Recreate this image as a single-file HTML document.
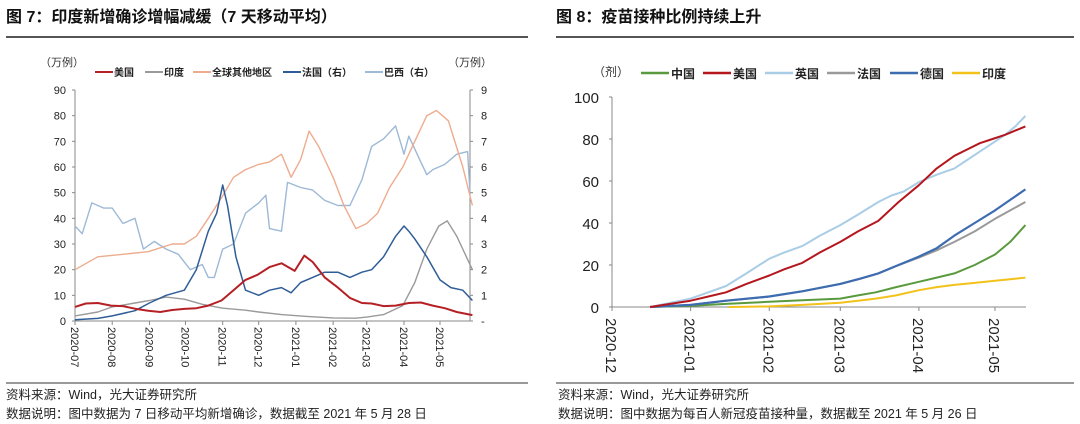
<!DOCTYPE html>
<html><head><meta charset="utf-8">
<style>
body{margin:0;width:1080px;height:424px;background:#fff;overflow:hidden;font-family:"Liberation Sans","Noto Sans CJK SC",sans-serif;}
svg{position:absolute;left:0;top:0}
text{font-family:"Liberation Sans","Noto Sans CJK SC",sans-serif;}
</style></head><body>
<svg id="c" width="1080" height="424">
<text x="6" y="22" font-size="16" font-weight="bold" fill="#111">图 7：印度新增确诊增幅减缓（7 天移动平均）</text>
<line x1="6" y1="37" x2="528" y2="37" stroke="#555" stroke-width="2"/>
<text x="556" y="22" font-size="16" font-weight="bold" fill="#111">图 8：疫苗接种比例持续上升</text>
<line x1="556" y1="37" x2="1074" y2="37" stroke="#555" stroke-width="2"/>
<line x1="6" y1="383" x2="528" y2="383" stroke="#333" stroke-width="1"/>
<line x1="556" y1="383" x2="1074" y2="383" stroke="#333" stroke-width="1"/>
<text x="6" y="399" font-size="12.5" fill="#222">资料来源：Wind，光大证券研究所</text>
<text x="6" y="418" font-size="12.5" fill="#222">数据说明：图中数据为 7 日移动平均新增确诊，数据截至 2021 年 5 月 28 日</text>
<text x="558" y="399" font-size="12.5" fill="#222">资料来源：Wind，光大证券研究所</text>
<text x="558" y="418" font-size="12.5" fill="#222">数据说明：图中数据为每百人新冠疫苗接种量，数据截至 2021 年 5 月 26 日</text>
<g id="L"></g><g id="R"></g>
</svg>
<script>
// ---- Left chart data (day index from 2020-07-01) ----
const usDays=[0,9,19,30,40,50,61,71,81,91,101,111,122,132,142,152,162,172,183,191,198,208,219,229,239,247,257,267,278,288,298,308,318,331];
const usVals=[5.5,6.8,7,6,5.8,4.8,4,3.5,4.3,4.7,5,6,8,12,16,18,21,22.5,19.5,25.5,23,17,13,9,7,6.8,5.8,6,7,7.2,6,5,3.5,2.3];
const inDays=[0,19,31,50,62,76,91,106,123,142,153,172,193,215,234,243,257,273,283,293,303,310,318,331];
const inVals=[2,3.5,5.5,7,8,9.3,8.5,6.5,5,4.2,3.5,2.5,1.8,1.2,1.1,1.5,2.5,6,15,28,37,39,33,20];
const glDays=[0,19,40,61,81,91,101,111,122,132,142,153,162,172,180,188,195,203,215,224,234,243,252,262,273,283,293,301,311,323,331];
const glVals=[20,25,26,27,30,30,33,40,48,56,59,61,62,65,56,63,74,68,56,45,36,38,42,52,60,70,80,82,78,60,45];
const frDays=[0,19,31,50,62,76,91,101,111,118,123,127,134,142,153,162,172,180,188,198,208,219,229,239,247,257,267,274,278,283,293,304,313,323,331];
const frVals=[0.05,0.1,0.2,0.4,0.7,1,1.2,2,3.5,4.2,5.3,4.5,2.5,1.2,1.0,1.2,1.3,1.1,1.5,1.7,1.9,1.9,1.7,1.9,2.0,2.5,3.3,3.7,3.5,3.2,2.5,1.6,1.3,1.2,0.8];
const brDays=[0,6,14,24,31,40,50,57,66,76,86,96,106,111,116,123,132,142,153,159,162,172,177,188,198,208,219,229,239,247,257,267,274,278,288,293,298,308,318,327,329];
const brVals=[3.7,3.4,4.6,4.4,4.4,3.8,4.0,2.8,3.1,2.8,2.6,2.0,2.2,1.7,1.7,2.8,3.0,4.2,4.6,4.9,3.6,3.5,5.4,5.2,5.1,4.7,4.5,4.5,5.5,6.8,7.1,7.6,6.5,7.2,6.2,5.7,5.9,6.1,6.5,6.6,5.0];
const leftTicks=[0,10,20,30,40,50,60,70,80,90];
const rightTicks=['-','1','2','3','4','5','6','7','8','9'];
const monthLabels=['2020-07','2020-08','2020-09','2020-10','2020-11','2020-12','2021-01','2021-02','2021-03','2021-04','2021-05'];
const monthDays=[0,31,62,92,123,153,184,215,243,274,304];
// ---- Right chart data (day index from 2020-12-01) ----
const vMonthLabels=['2020-12','2021-01','2021-02','2021-03','2021-04','2021-05'];
const vMonthDays=[0,31,62,90,121,151];
const vTicks=[0,20,40,60,80,100];
const ukDays=[15,23,31,38,45,53,62,68,75,82,90,97,105,110,115,121,128,135,140,145,150,155,159,163];
const ukVals=[0,2,4,7,10,16,23,26,29,34,39,44,50,53,55,59.5,63,66,70,74,78,82,86,91];
const usvDays=[15,23,31,38,45,53,62,68,75,82,90,97,105,113,121,128,135,140,145,150,155,159,163];
const usvVals=[0,1.5,3,5,7,11,15,18,21,26,31,36,41,50,58,66,72,75,78,80,82,84,86];
const deDays=[15,31,45,62,75,90,98,105,113,121,128,135,143,151,157,163];
const deVals=[0,1,3,5,7.5,11,13.5,16,20,24,28,34,40,46,51,56];
const frvDays=[15,31,45,62,75,90,98,105,113,121,128,135,143,151,157,163];
const frvVals=[0,1,3,5,7.5,11,13.5,16,20,23.5,27,31,36,42,46,50];
const cnDays=[15,31,45,62,75,90,97,104,112,121,128,135,143,151,157,163];
const cnVals=[0,0.5,1.5,2.5,3.2,4,5.5,7,9.5,12,14,16,20,25,31,39];
const inVDays=[46,62,75,90,97,104,112,121,128,135,143,151,157,163];
const inVVals=[0,0.3,1,2,3,4,5.5,8,9.5,10.5,11.5,12.5,13.2,14];

const NS='http://www.w3.org/2000/svg';
function mk(parent,tag,attrs){const e=document.createElementNS(NS,tag);for(const k in attrs)e.setAttribute(k,attrs[k]);parent.appendChild(e);return e;}
const lx=d=>75+d*(395/329);
const ly=v=>321-v*(231/90);
const ry=v=>321-v*(231/9);
const L=document.getElementById('L');
let t;
t=mk(L,'text',{x:40,y:66,'font-size':11,fill:'#333'});t.textContent='（万例）';


t=mk(L,'text',{x:448,y:66,'font-size':11,fill:'#333'});t.textContent='（万例）';


mk(L,'line',{x1:75,y1:90,x2:75,y2:321,stroke:'#888'});
mk(L,'line',{x1:470,y1:90,x2:470,y2:321,stroke:'#888'});
mk(L,'line',{x1:75,y1:321,x2:470,y2:321,stroke:'#888'});
leftTicks.forEach(v=>{const y=ly(v);mk(L,'line',{x1:72,y1:y,x2:75,y2:y,stroke:'#888'});
 const tx=mk(L,'text',{x:66,y:y+4,'font-size':11,fill:'#222','text-anchor':'end'});tx.textContent=v;
 
 });
rightTicks.forEach((s,i)=>{const y=ry(i);mk(L,'line',{x1:470,y1:y,x2:473,y2:y,stroke:'#888'});
 const tx=mk(L,'text',{x:481,y:y+4,'font-size':11,fill:'#222'});tx.textContent=s;
 
 });
monthLabels.forEach((s,i)=>{const x=lx(monthDays[i]);mk(L,'line',{x1:x,y1:321,x2:x,y2:325,stroke:'#888'});
 const tx=mk(L,'text',{x:x-4,y:327,'font-size':11,fill:'#222',transform:`rotate(90 ${x-4} 327)`});tx.textContent=s;
 
 });
function series(g,days,vals,xf,yf,color,w,name){
 const d=days.map((dd,i)=>(i?'L':'M')+xf(dd).toFixed(1)+','+yf(vals[i]).toFixed(1)).join('');
 const p=mk(g,'path',{d:d,fill:'none',stroke:color,'stroke-width':w,'stroke-linejoin':'round'});
 
 }
series(L,brDays,brVals,lx,ry,'#9db9d6',1.4,'line-brazil');
series(L,glDays,glVals,lx,ly,'#eeac8e',1.4,'line-global-other');
series(L,inDays,inVals,lx,ly,'#9a9a9a',1.4,'line-india');
series(L,frDays,frVals,lx,ry,'#2f5d97',1.5,'line-france');
series(L,usDays,usVals,lx,ly,'#b52025',2,'line-usa');
const lleg=[['美国','#b52025',95],['印度','#9a9a9a',145],['全球其他地区','#eeac8e',193],['法国（右）','#2f5d97',283],['巴西（右）','#9db9d6',365]];
lleg.forEach(([n,c,x])=>{mk(L,'line',{x1:x,y1:72,x2:x+18,y2:72,stroke:c,'stroke-width':2});
 const tx=mk(L,'text',{x:x+19,y:76,'font-size':10,'font-weight':'bold',fill:'#222'});tx.textContent=n;
 
 });
const vx=d=>612+d*(383/151);
const vy=v=>307-v*2.1;
const R=document.getElementById('R');
t=mk(R,'text',{x:593,y:76,'font-size':12,fill:'#333'});t.textContent='（剂）';


mk(R,'line',{x1:612,y1:97,x2:612,y2:307,stroke:'#888'});
mk(R,'line',{x1:612,y1:307,x2:1026,y2:307,stroke:'#888'});
vTicks.forEach(v=>{const y=vy(v);mk(R,'line',{x1:609,y1:y,x2:612,y2:y,stroke:'#888'});
 const tx=mk(R,'text',{x:599,y:y+6,'font-size':15,fill:'#222','text-anchor':'end'});tx.textContent=v;
 
 });
vMonthLabels.forEach((s,i)=>{const x=vx(vMonthDays[i]);mk(R,'line',{x1:x,y1:307,x2:x,y2:311,stroke:'#888'});
 const tx=mk(R,'text',{x:x-6,y:318,'font-size':15,fill:'#222',transform:`rotate(90 ${x-6} 318)`});tx.textContent=s;
 
 });
series(R,inVDays,inVVals,vx,vy,'#f2c21b',2,'line-india-vaccine');
series(R,cnDays,cnVals,vx,vy,'#5a9a3e',2,'line-china-vaccine');
series(R,frvDays,frvVals,vx,vy,'#9a9a9a',2,'line-france-vaccine');
series(R,deDays,deVals,vx,vy,'#3d6cb0',2.2,'line-germany-vaccine');
series(R,ukDays,ukVals,vx,vy,'#a9cde6',2,'line-uk-vaccine');
series(R,usvDays,usvVals,vx,vy,'#b5161e',2,'line-usa-vaccine');
const rleg=[['中国','#5a9a3e',641],['美国','#b5161e',703],['英国','#a9cde6',765],['法国','#9a9a9a',827],['德国','#3d6cb0',890],['印度','#f2c21b',952]];
rleg.forEach(([n,c,x])=>{mk(R,'line',{x1:x,y1:73,x2:x+28,y2:73,stroke:c,'stroke-width':2.5});
 const tx=mk(R,'text',{x:x+30,y:78,'font-size':12,'font-weight':'bold',fill:'#222'});tx.textContent=n;
 
 });
</script>
</body></html>
